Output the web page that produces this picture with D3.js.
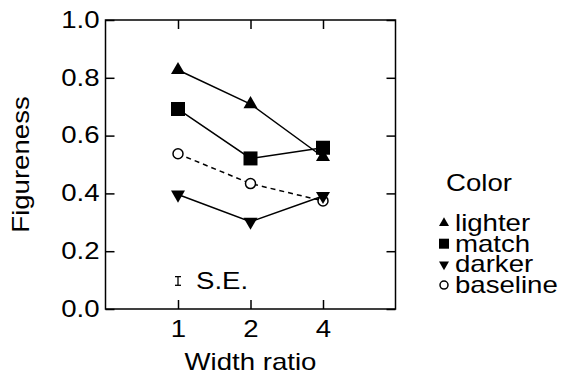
<!DOCTYPE html>
<html>
<head>
<meta charset="utf-8">
<script src="https://cdn.jsdelivr.net/npm/d3@7"></script>
<style>
  body { margin: 0; background: #fff; }
  text { font-family: "Liberation Sans", Arial, sans-serif; fill: #000; }
</style>
</head>
<body>
<div id="container"></div>
<script>
// values
const widthRatios = ["1", "2", "4"];
const lighter = [0.827, 0.709, 0.526];
const match = [0.692, 0.521, 0.558];
const darker = [0.396, 0.302, 0.391];
const baseline = [0.537, 0.434, 0.374];
const yTicks = [0, 0.2, 0.4, 0.6, 0.8, 1.0];
const seCenter = 0.097;
const seHalf = 0.015;

const series = [
    {name: "lighter", values: lighter, shape: "up", dash: null},
    {name: "match", values: match, shape: "square", dash: null},
    {name: "darker", values: darker, shape: "down", dash: null},
    {name: "baseline", values: baseline, shape: "circle", dash: "5,4"}
];

const W = 569, H = 377;
const plotL = 105.5, plotR = 395.5, plotT = 20, plotB = 309;
// the reference text is set wide, so stretch glyphs sideways
const FS = 23, SX = 1.2;

const svg = d3.select("#container").append("svg")
    .attr("width", W)
    .attr("height", H);

// categories sit at 1..3 on a 0..4 range
const x = d3.scaleLinear().domain([0, widthRatios.length + 1]).range([plotL, plotR]);
const y = d3.scaleLinear().domain([0, 1]).range([plotB, plotT]);
const xi = i => x(i + 1);

const wideText = (g, tx, ty, str, anchor) => g.append("text")
    .attr("transform", `translate(${tx},${ty}) scale(${SX},1)`)
    .attr("text-anchor", anchor || "start")
    .style("font-size", FS + "px")
    .text(str);

const axisFont = g => g.selectAll("text")
    .style("font-size", FS + "px")
    .attr("transform", `scale(${SX},1)`);

svg.append("g")
    .attr("transform", `translate(${plotL},0)`)
    .call(d3.axisLeft(y).tickValues(yTicks).tickFormat(d3.format(".1f"))
        .tickSizeInner(-9).tickSizeOuter(0).tickPadding(5))
    .call(axisFont)
    .call(g => g.select(".domain").remove());
svg.append("g")
    .attr("transform", `translate(${plotR},0)`)
    .call(d3.axisRight(y).tickValues(yTicks).tickSizeInner(-9).tickSizeOuter(0).tickFormat(""))
    .call(g => g.select(".domain").remove());
svg.append("g")
    .attr("transform", `translate(0,${plotB})`)
    .call(d3.axisBottom(x).tickValues([1, 2, 3]).tickFormat((d, i) => widthRatios[i])
        .tickSizeInner(-9).tickSizeOuter(0).tickPadding(11.5))
    .call(axisFont)
    .call(g => g.select(".domain").remove());
svg.append("g")
    .attr("transform", `translate(0,${plotT})`)
    .call(d3.axisTop(x).tickValues([1, 2, 3]).tickSizeInner(-9).tickSizeOuter(0).tickFormat(""))
    .call(g => g.select(".domain").remove());
svg.selectAll(".tick line").attr("stroke", "#000").attr("stroke-width", 1.5);

svg.append("rect")
    .attr("x", plotL).attr("y", plotT)
    .attr("width", plotR - plotL).attr("height", plotB - plotT)
    .attr("fill", "none").attr("stroke", "#000").attr("stroke-width", 1.5);

// axis titles (rotated one is stretched along its own baseline)
wideText(svg, (plotL + plotR) / 2, 370, "Width ratio", "middle");
svg.append("text")
    .attr("transform", `translate(29,${(plotT + plotB) / 2}) rotate(-90) scale(${SX},1)`)
    .attr("text-anchor", "middle")
    .style("font-size", FS + "px")
    .text("Figureness");

const line = d3.line().x((d, i) => xi(i)).y(d => y(d));

const symbolPath = (shape, s) => {
    if (shape === "up" || shape === "down") return d3.symbol(d3.symbolTriangle, s * s * 0.433)();
    if (shape === "square") return d3.symbol(d3.symbolSquare, s * s)();
    return d3.symbol(d3.symbolCircle, Math.PI * (s / 2) * (s / 2))();
};

const drawMarker = (g, shape, cx, cy, s) => {
    const p = g.append("path")
        .attr("d", symbolPath(shape, s))
        .attr("transform", `translate(${cx},${cy})` + (shape === "down" ? " rotate(180)" : ""));
    if (shape === "circle") p.attr("fill", "#fff").attr("stroke", "#000").attr("stroke-width", 1.5);
    else p.attr("fill", "#000");
};

// draw order: baseline first so filled markers land on top
[3, 2, 1, 0].forEach(k => {
    const s = series[k];
    svg.append("path")
        .datum(s.values)
        .attr("d", line)
        .attr("fill", "none")
        .attr("stroke", "#000")
        .attr("stroke-width", 1.5)
        .attr("stroke-dasharray", s.dash);
});
[3, 2, 1, 0].forEach(k => {
    const s = series[k];
    const g = svg.append("g");
    s.values.forEach((v, i) => {
        drawMarker(g, s.shape, xi(i), y(v), s.shape === "circle" ? 10 : 14);
    });
});

// S.E. bar
const seX = xi(0);
const seG = svg.append("g").attr("stroke", "#000").attr("stroke-width", 1.3);
seG.append("line").attr("x1", seX).attr("x2", seX).attr("y1", y(seCenter + seHalf)).attr("y2", y(seCenter - seHalf));
seG.append("line").attr("x1", seX - 3).attr("x2", seX + 3).attr("y1", y(seCenter + seHalf)).attr("y2", y(seCenter + seHalf));
seG.append("line").attr("x1", seX - 3).attr("x2", seX + 3).attr("y1", y(seCenter - seHalf)).attr("y2", y(seCenter - seHalf));
wideText(svg, seX + 18, y(seCenter) + 8, "S.E.");

// legend
const legend = svg.append("g");
wideText(legend, 446, 191, "Color");
series.forEach((s, i) => {
    const cy = 223 + i * 20.7;
    drawMarker(legend, s.shape, 444, cy, s.shape === "circle" ? 8 : 10);
    wideText(legend, 455, cy + 8, s.name);
});
</script>
</body>
</html>
